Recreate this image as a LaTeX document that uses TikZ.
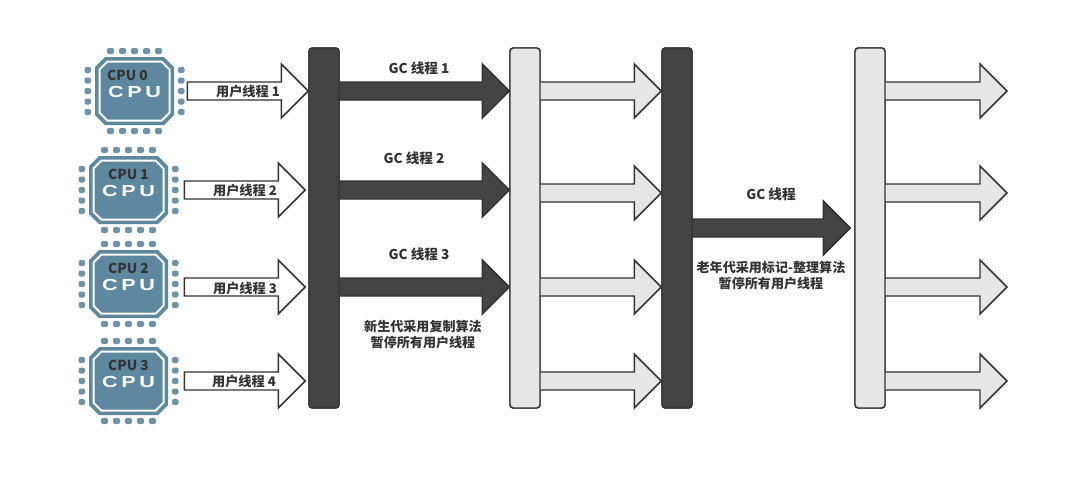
\documentclass[tikz,border=0pt]{standalone}
\usepackage{fontspec}
\setmainfont{Noto Sans CJK SC}
\newfontfamily\cpufont{Liberation Sans}
\usetikzlibrary{calc}
\definecolor{ink}{HTML}{333333}
\definecolor{darkbar}{HTML}{444444}
\definecolor{lightbar}{HTML}{E6E6E6}
\definecolor{chipblue}{HTML}{5E87A0}
\tikzset{
  barbox/.style={draw=ink,line width=1.1pt,rounded corners=2.5pt,minimum width=22.5pt,minimum height=270pt,inner sep=0pt},
  fatbase/.style={draw=ink,line width=1.1pt,to path={let \p1=(\tikztostart),\p2=(\tikztotarget) in
    (\x1,\y1+6.75pt) -- (\x2-20.25pt,\y1+6.75pt) -- (\x2-20.25pt,\y1+20.25pt) -- (\x2,\y1)
    -- (\x2-20.25pt,\y1-20.25pt) -- (\x2-20.25pt,\y1-6.75pt) -- (\x1,\y1-6.75pt) -- cycle}},
  fatwhite/.style={fatbase,fill=white},
  fatlight/.style={fatbase,fill=lightbar},
  fatdark/.style={fatbase,fill=darkbar},
  lbl/.style={text=ink,yshift=-0.3pt,font=\fontsize{10.2pt}{11.6pt}\selectfont\bfseries,inner sep=0pt,align=center},
  userlbl/.style={lbl,font=\fontsize{9.9pt}{11.6pt}\selectfont\bfseries},
  notelbl/.style={lbl,font=\fontsize{9.8pt}{11.6pt}\selectfont\bfseries},
  cpubox/.style={inner sep=0pt,minimum height=60pt},
  cpuname/.style={text=ink,font=\fontsize{10.3pt}{12pt}\selectfont\bfseries,inner sep=0pt},
  cpumark/.style={text=white,inner sep=0pt,yshift=-0.4pt,font=\cpufont\fontsize{12pt}{12pt}\selectfont\bfseries},
  pinbox/.style={fill=chipblue!90!white,rounded corners=1.5pt}
}
\newcommand{\octa}[3]{(-#1,-#2+#3) -- (-#1+#3,-#2) -- (#1-#3,-#2) -- (#1,-#2+#3) -- (#1,#2-#3) -- (#1-#3,#2) -- (-#1+#3,#2) -- (-#1,#2-#3) -- cycle}
% name, x, y, digit, half-width of the node that anchors the arrow tail (in pt), x offset of the name
\newcommand{\chip}[6]{%
  \begin{scope}[shift={(#2,#3)}]
    \foreach \o in {-24,-12,0,12,24}{
      \fill[pinbox] (\o-3.5,-43) rectangle (\o+3.5,-37);
      \fill[pinbox] (\o-3.5,37) rectangle (\o+3.5,43);
    }
    \foreach \o in {-21,-10.5,0,10.5,21}{
      \fill[pinbox] (-50,\o-3) rectangle (-43.5,\o+3);
      \fill[pinbox] (43.5,\o-3) rectangle (50,\o+3);
    }
    \fill[chipblue] \octa{39.5}{34}{10};
    \fill[white] \octa{36}{30.5}{8.5};
    \fill[chipblue] \octa{34}{28.5}{7.5};
  \end{scope}
  \node[cpubox,minimum width=#5pt] (#1) at (#2,#3) {};
  \node[cpuname] (#1name) at ($(#1)+(#6,-16)$) {CPU #4};
  \node[cpumark] (#1mark) at ($(#1)+(0,0)$) {\scalebox{1.35}[1]{C\,P\,U}};
}
\begin{document}
\begin{tikzpicture}[x=0.75pt,y=-0.75pt]
\useasboundingbox (0,0) rectangle (1068,486);
\fill[white] (0,0) rectangle (1068,486);
\coordinate (rowA) at (0,91);
\coordinate (rowB) at (0,190);
\coordinate (rowC) at (0,287);
\coordinate (rowD) at (0,381);
\coordinate (rowE) at (0,193);
\coordinate (rowG) at (0,228);
\coordinate (endR) at (1007,0);
\node[barbox,fill=darkbar] (bar1) at (324,228) {};
\node[barbox,fill=lightbar] (bar2) at (525,228) {};
\node[barbox,fill=darkbar] (bar3) at (677,228) {};
\node[barbox,fill=lightbar] (bar4) at (870,228) {};

\chip{cpu0}{134.5}{91}{0}{78.75}{-7}
\chip{cpu1}{128.5}{190}{1}{83.25}{0}
\chip{cpu2}{128.5}{284}{2}{83.25}{0}
\chip{cpu3}{128.5}{381}{3}{83.25}{0}

\draw[fatwhite] (cpu0.east) to (bar1.west |- rowA);
\draw[fatwhite] (cpu1.east) to ([xshift=-2.25pt]bar1.west |- rowB);
\draw[fatwhite] (cpu2.east |- rowC) to ([xshift=-2.25pt]bar1.west |- rowC);
\draw[fatwhite] (cpu3.east) to ([xshift=-2.25pt]bar1.west |- rowD);

\draw[fatdark] ([xshift=-1.5pt]bar1.east |- rowA) to (bar2.west |- rowA);
\draw[fatdark] ([xshift=-1.5pt]bar1.east |- rowB) to (bar2.west |- rowB);
\draw[fatdark] ([xshift=-1.5pt]bar1.east |- rowC) to (bar2.west |- rowC);

\draw[fatlight] ([xshift=-1.5pt]bar2.east |- rowA) to (bar3.west |- rowA);
\draw[fatlight] ([xshift=-1.5pt]bar2.east |- rowE) to (bar3.west |- rowE);
\draw[fatlight] ([xshift=-1.5pt]bar2.east |- rowC) to (bar3.west |- rowC);
\draw[fatlight] ([xshift=-1.5pt]bar2.east |- rowD) to (bar3.west |- rowD);

\draw[fatdark] ([xshift=-1.5pt]bar3.east |- rowG) to ([xshift=-3pt]bar4.west |- rowG);

\draw[fatlight] ([xshift=-1.5pt]bar4.east |- rowA) to (endR |- rowA);
\draw[fatlight] ([xshift=-1.5pt]bar4.east |- rowE) to (endR |- rowE);
\draw[fatlight] ([xshift=-1.5pt]bar4.east |- rowC) to (endR |- rowC);
\draw[fatlight] ([xshift=-1.5pt]bar4.east |- rowD) to (endR |- rowD);

\node[barbox,fill=darkbar] at (bar1) {};
\node[barbox,fill=lightbar] at (bar2) {};
\node[barbox,fill=darkbar] at (bar3) {};
\node[barbox,fill=lightbar] at (bar4) {};

\node[userlbl] (u1) at (248,91) {用户线程 1};
\node[userlbl] (u2) at (245,190) {用户线程 2};
\node[userlbl] (u3) at (245,288) {用户线程 3};
\node[userlbl] (u4) at (244,381.5) {用户线程 4};
\node[lbl] (g1) at (419,68) {GC 线程 1};
\node[lbl] (g2) at (414,158) {GC 线程 2};
\node[lbl] (g3) at (419,254) {GC 线程 3};
\node[lbl] (g4) at (771,194) {GC 线程};
\node[notelbl] (note1) at (423,334) {新生代采用复制算法\\暂停所有用户线程};
\node[notelbl] (note2) at (771,275) {老年代采用标记-整理算法\\暂停所有用户线程};
\end{tikzpicture}
\end{document}
